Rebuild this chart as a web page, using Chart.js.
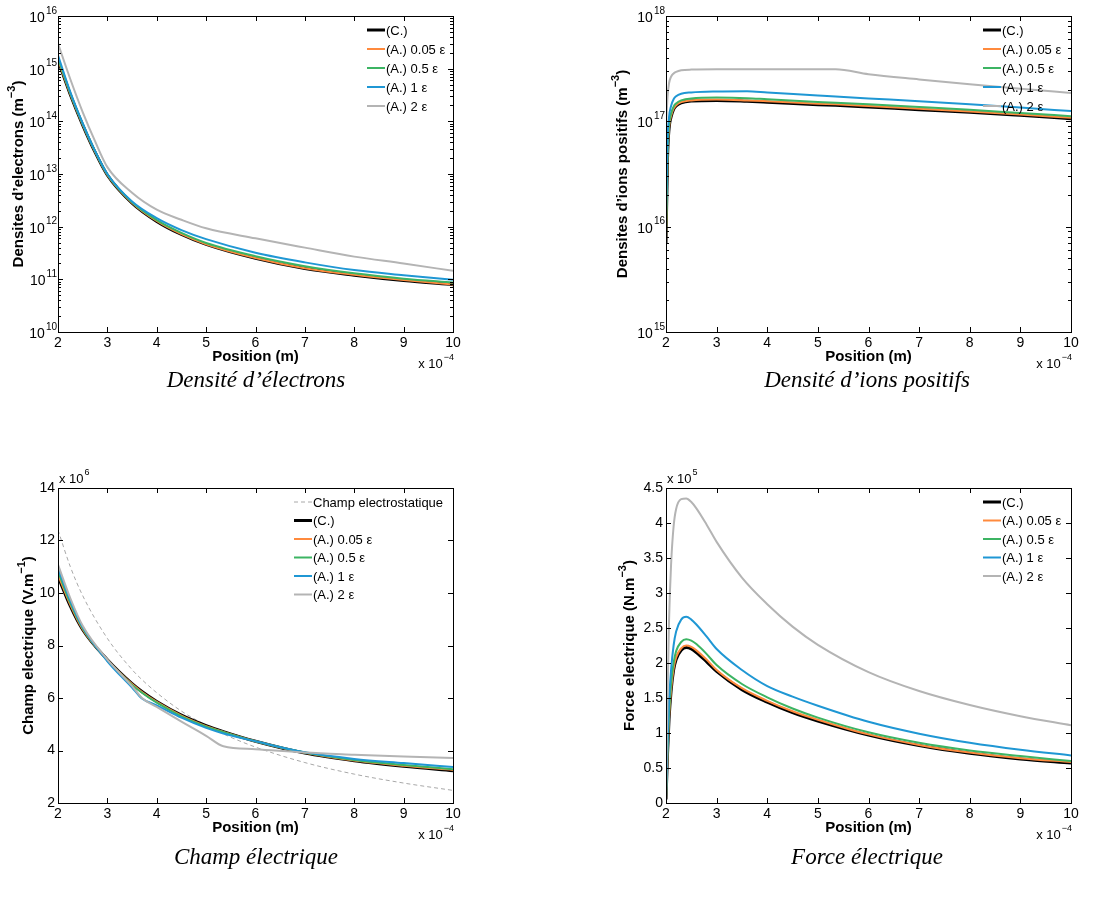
<!DOCTYPE html>
<html>
<head>
<meta charset="utf-8">
<script src="https://cdn.jsdelivr.net/npm/chart.js@4.4.0/dist/chart.umd.min.js"></script>
<style>
    body { margin: 0; background: #ffffff; }
    #page { position: relative; width: 1104px; height: 898px; overflow: hidden; }
    canvas { position: absolute; }
    .caption {
        position: absolute; width: 400px; text-align: center; line-height: 24px;
        font-family: "Liberation Serif", "Times New Roman", serif; font-style: italic; font-size: 23px; color: #000;
    }
</style>
</head>
<body>
<div id="page">
    <canvas id="chart_elec" width="552" height="420" style="left:0px;top:0px"></canvas>
    <canvas id="chart_ions" width="552" height="420" style="left:552px;top:0px"></canvas>
    <canvas id="chart_champ" width="552" height="420" style="left:0px;top:440px"></canvas>
    <canvas id="chart_force" width="552" height="420" style="left:552px;top:440px"></canvas>
    <div class="caption" style="left:56px;top:368px">Densité d’électrons</div>
    <div class="caption" style="left:667px;top:368px">Densité d’ions positifs</div>
    <div class="caption" style="left:56px;top:845px">Champ électrique</div>
    <div class="caption" style="left:667px;top:845px">Force électrique</div>
</div>
<script>
// ---- data (x in units of 1e-4 m) ----
var xTicks = [2, 3, 4, 5, 6, 7, 8, 9, 10];
var seriesNames = ['(C.)', '(A.) 0.05 ε', '(A.) 0.5 ε', '(A.) 1 ε', '(A.) 2 ε'];
var arrColor = ['#000000', '#ff8a3d', '#3cb463', '#1f97d4', '#b4b4b4'];

// electrons (m^-3)
var xElec = [2, 2.25, 2.5, 2.75, 3, 3.5, 4, 4.5, 5, 6, 7, 8, 9, 10];
var elecC = [1.45e15, 3.2e14, 8.5e13, 2.6e13, 9.5e12, 2.8e12, 1.26e12, 7.1e11, 4.6e11, 2.5e11, 1.6e11, 1.2e11, 9.5e10, 7.9e10];
var elecA005 = [1.5e15, 3.3e14, 8.7e13, 2.65e13, 9.6e12, 2.85e12, 1.28e12, 7.2e11, 4.65e11, 2.55e11, 1.63e11, 1.22e11, 9.7e10, 8.0e10];
var elecA05 = [1.6e15, 3.4e14, 8.9e13, 2.7e13, 9.8e12, 2.9e12, 1.33e12, 7.6e11, 4.9e11, 2.75e11, 1.78e11, 1.3e11, 1.03e11, 8.7e10];
var elecA1 = [1.8e15, 3.6e14, 9.2e13, 2.75e13, 1.0e13, 3.0e12, 1.45e12, 8.6e11, 5.8e11, 3.2e11, 2.1e11, 1.5e11, 1.2e11, 9.8e10];
var elecA2 = [3.0e15, 6.3e14, 1.5e14, 4.2e13, 1.35e13, 4.4e12, 2.1e12, 1.35e12, 9.3e11, 6.0e11, 4.0e11, 2.7e11, 2.0e11, 1.45e11];
var elecTicks = [1e10, 1e11, 1e12, 1e13, 1e14, 1e15, 1e16];

// positive ions (m^-3)
var xIons = [2, 2.03, 2.06, 2.1, 2.15, 2.2, 2.3, 2.5, 3, 3.6, 4, 5, 5.35, 6, 7, 8, 9, 10];
var ionC = [7e15, 4.5e16, 8.5e16, 1.1e17, 1.3e17, 1.4e17, 1.5e17, 1.56e17, 1.58e17, 1.55e17, 1.52e17, 1.44e17, 1.42e17, 1.37e17, 1.29e17, 1.22e17, 1.14e17, 1.06e17];
var ionA005 = [7e15, 4.6e16, 8.7e16, 1.12e17, 1.32e17, 1.42e17, 1.52e17, 1.58e17, 1.61e17, 1.58e17, 1.55e17, 1.47e17, 1.45e17, 1.40e17, 1.32e17, 1.24e17, 1.16e17, 1.08e17];
var ionA05 = [7.5e15, 5e16, 9.2e16, 1.18e17, 1.38e17, 1.48e17, 1.58e17, 1.65e17, 1.68e17, 1.66e17, 1.62e17, 1.53e17, 1.50e17, 1.45e17, 1.37e17, 1.29e17, 1.20e17, 1.12e17];
var ionA1 = [1.2e16, 6.5e16, 1.1e17, 1.4e17, 1.62e17, 1.73e17, 1.83e17, 1.88e17, 1.92e17, 1.93e17, 1.88e17, 1.76e17, 1.72e17, 1.65e17, 1.55e17, 1.45e17, 1.35e17, 1.25e17];
var ionA2 = [9e16, 1.7e17, 2.3e17, 2.65e17, 2.85e17, 2.95e17, 3.05e17, 3.1e17, 3.12e17, 3.12e17, 3.12e17, 3.12e17, 3.12e17, 2.8e17, 2.5e17, 2.25e17, 2.04e17, 1.86e17];
var ionTicks = [1e15, 1e16, 1e17, 1e18];

// electric field (x 1e6 V/m)
var xChamp = [2, 2.25, 2.5, 3, 3.5, 3.7, 4, 4.5, 5, 5.35, 6, 7, 8, 9, 10];
var champES = [12.4, 11.0, 9.9, 8.27, 7.08, 6.7, 6.2, 5.5, 4.96, 4.63, 4.13, 3.54, 3.1, 2.76, 2.48];
var champC = [10.63, 9.5, 8.6, 7.46, 6.55, 6.25, 5.87, 5.35, 4.95, 4.72, 4.35, 3.9, 3.61, 3.4, 3.23];
var champA005 = [10.7, 9.55, 8.62, 7.45, 6.53, 6.23, 5.85, 5.33, 4.93, 4.71, 4.35, 3.91, 3.62, 3.42, 3.26];
var champA05 = [10.83, 9.62, 8.66, 7.44, 6.5, 6.2, 5.82, 5.3, 4.91, 4.70, 4.35, 3.92, 3.64, 3.45, 3.29];
var champA1 = [10.95, 9.7, 8.7, 7.4, 6.4, 5.98, 5.72, 5.25, 4.86, 4.65, 4.35, 3.93, 3.68, 3.52, 3.37];
var champA2 = [11.08, 9.8, 8.75, 7.46, 6.45, 6.0, 5.66, 5.1, 4.56, 4.16, 4.05, 3.92, 3.84, 3.77, 3.71];
var champTicks = [2, 4, 6, 8, 10, 12, 14];

// electric force (x 1e5 N/m^3)
var xForce = [2, 2.03, 2.06, 2.1, 2.15, 2.2, 2.3, 2.4, 2.5, 2.6, 2.8, 3, 3.5, 4, 4.5, 5, 6, 7, 8, 9, 10];
var forceC = [0.05, 0.7, 1.2, 1.6, 1.9, 2.05, 2.18, 2.22, 2.2, 2.15, 2.02, 1.88, 1.62, 1.44, 1.29, 1.17, 0.97, 0.82, 0.71, 0.63, 0.57];
var forceA005 = [0.05, 0.7, 1.22, 1.62, 1.92, 2.08, 2.21, 2.25, 2.23, 2.18, 2.05, 1.9, 1.64, 1.46, 1.31, 1.19, 0.98, 0.83, 0.72, 0.64, 0.585];
var forceA05 = [0.06, 0.75, 1.28, 1.7, 2.0, 2.17, 2.3, 2.34, 2.32, 2.27, 2.13, 1.97, 1.7, 1.51, 1.35, 1.22, 1.01, 0.86, 0.75, 0.67, 0.6];
var forceA1 = [0.08, 0.85, 1.45, 1.9, 2.25, 2.45, 2.62, 2.66, 2.62, 2.55, 2.38, 2.2, 1.9, 1.67, 1.52, 1.39, 1.16, 0.99, 0.86, 0.76, 0.68];
var forceA2 = [0.1, 1.5, 2.6, 3.4, 3.95, 4.2, 4.34, 4.35, 4.3, 4.21, 3.98, 3.73, 3.22, 2.84, 2.52, 2.26, 1.87, 1.6, 1.4, 1.24, 1.11];
var forceTicks = [0, 0.5, 1, 1.5, 2, 2.5, 3, 3.5, 4, 4.5];

var FONT = '"Liberation Sans", Arial, sans-serif';

// draws base text followed by a raised exponent
function drawSup(ctx, x, y, base, sup, size, align) {
    ctx.font = size + 'px ' + FONT;
    let wb = ctx.measureText(base).width;
    ctx.font = Math.round(size * 0.72) + 'px ' + FONT;
    let ws = ctx.measureText(sup).width;
    let x0 = x;
    if (align == 'right') x0 = x - wb - ws;
    if (align == 'center') x0 = x - (wb + ws) / 2;
    ctx.textAlign = 'left';
    ctx.textBaseline = 'middle';
    ctx.font = size + 'px ' + FONT;
    ctx.fillText(base, x0, y);
    ctx.font = Math.round(size * 0.72) + 'px ' + FONT;
    ctx.fillText(sup, x0 + wb + 1, y - size * 0.5);
}

// MATLAB look: box, inward ticks, titles, exponents, legend
const matlabAxes = {
    id: 'matlabAxes',
    afterDraw: function (chart, args, opt) {
        const ctx = chart.ctx;
        const a = chart.chartArea;
        const xs = chart.scales.x;
        const ys = chart.scales.y;
        ctx.save();
        ctx.strokeStyle = '#000';
        ctx.fillStyle = '#000';
        ctx.lineWidth = 1;

        // ticks
        ctx.beginPath();
        for (let t of xs.ticks) {
            let px = Math.round(xs.getPixelForValue(t.value)) + 0.5;
            ctx.moveTo(px, a.bottom); ctx.lineTo(px, a.bottom - 5);
            ctx.moveTo(px, a.top); ctx.lineTo(px, a.top + 5);
        }
        for (let t of ys.ticks) {
            let py = Math.round(ys.getPixelForValue(t.value)) + 0.5;
            ctx.moveTo(a.left, py); ctx.lineTo(a.left + 5, py);
            ctx.moveTo(a.right, py); ctx.lineTo(a.right - 5, py);
        }
        if (opt.log) {
            for (let i = 0; i < ys.ticks.length - 1; i++) {
                for (let k = 2; k <= 9; k++) {
                    let py = Math.round(ys.getPixelForValue(ys.ticks[i].value * k)) + 0.5;
                    ctx.moveTo(a.left, py); ctx.lineTo(a.left + 3, py);
                    ctx.moveTo(a.right, py); ctx.lineTo(a.right - 3, py);
                }
            }
        }
        ctx.stroke();

        // box
        ctx.strokeRect(Math.round(a.left) + 0.5, Math.round(a.top) + 0.5,
            Math.round(a.right - a.left), Math.round(a.bottom - a.top));

        // log tick labels 10^n
        if (opt.log) {
            for (let t of ys.ticks) {
                let py = ys.getPixelForValue(t.value);
                drawSup(ctx, a.left - 2, py + 2, '10', String(Math.round(Math.log10(t.value))), 14, 'right');
            }
        }

        // x title
        ctx.font = 'bold 15px ' + FONT;
        ctx.textAlign = 'center';
        ctx.textBaseline = 'middle';
        ctx.fillText('Position (m)', (a.left + a.right) / 2, a.bottom + 25);

        // x multiplier
        drawSup(ctx, a.right, a.bottom + 32, 'x 10', '−4', 13, 'right');
        if (opt.yMult) {
            drawSup(ctx, a.left + 1, a.top - 9, 'x 10', opt.yMult, 13, 'left');
        }

        // y title (rotated)
        ctx.save();
        ctx.translate(opt.yTitleX, (a.top + a.bottom) / 2);
        ctx.rotate(-Math.PI / 2);
        ctx.font = 'bold 15px ' + FONT;
        let w1 = ctx.measureText(opt.yTitle).width;
        ctx.font = 'bold 11px ' + FONT;
        let w2 = ctx.measureText(opt.yTitleSup).width;
        ctx.font = 'bold 15px ' + FONT;
        let w3 = ctx.measureText(')').width;
        let x0 = -(w1 + w2 + w3) / 2;
        ctx.textAlign = 'left';
        ctx.fillText(opt.yTitle, x0, 0);
        ctx.font = 'bold 11px ' + FONT;
        ctx.fillText(opt.yTitleSup, x0 + w1, -7);
        ctx.font = 'bold 15px ' + FONT;
        ctx.fillText(')', x0 + w1 + w2, 0);
        ctx.restore();

        // legend
        ctx.font = '13px ' + FONT;
        ctx.textAlign = 'left';
        ctx.textBaseline = 'middle';
        let row = 0;
        for (let ds of chart.data.datasets) {
            let ly = opt.legendY + row * opt.legendRow;
            ctx.save();
            ctx.strokeStyle = ds.borderColor;
            ctx.lineWidth = ds.borderWidth;
            ctx.setLineDash(ds.borderDash || []);
            ctx.beginPath();
            ctx.moveTo(opt.legendX, ly);
            ctx.lineTo(opt.legendX + 18, ly);
            ctx.stroke();
            ctx.restore();
            ctx.fillText(ds.label, opt.legendX + 19, ly + 1);
            row += 1;
        }
        ctx.restore();
    }
};

function makeDatasets(xVals, arrSeries) {
    let objDatasets = [];
    for (let i = 0; i < arrSeries.length; i++) {
        let pts = [];
        for (let j = 0; j < xVals.length; j++) {
            pts.push({ x: xVals[j], y: arrSeries[i][j] });
        }
        objDatasets.push({
            label: seriesNames[i],
            data: pts,
            borderColor: arrColor[i],
            backgroundColor: arrColor[i],
            borderWidth: (i == 0) ? 3 : 2,
            order: 5 - i,
            cubicInterpolationMode: 'monotone',
            pointRadius: 0,
            fill: false
        });
    }
    return objDatasets;
}

function DrawPanel(canvasId, datasets, yCfg, plotBox, pluginOpt) {
    let ctx = document.getElementById(canvasId).getContext('2d');
    let W = 552, H = 420;
    return new Chart(ctx, {
        type: 'line',
        data: { datasets: datasets },
        plugins: [matlabAxes],
        options: {
            responsive: false,
            animation: false,
            devicePixelRatio: 1,
            layout: {
                padding: { left: 0, top: plotBox.top, right: W - plotBox.right, bottom: 0 }
            },
            plugins: {
                legend: { display: false },
                tooltip: { enabled: false },
                matlabAxes: pluginOpt
            },
            scales: {
                x: {
                    type: 'linear',
                    min: 2,
                    max: 10,
                    afterBuildTicks: function (axis) {
                        axis.ticks = xTicks.map(function (v) { return { value: v }; });
                    },
                    afterFit: function (axis) { axis.height = H - plotBox.bottom; },
                    grid: { display: false, drawTicks: false },
                    border: { display: false },
                    ticks: {
                        color: '#000',
                        padding: 3,
                        maxRotation: 0,
                        font: { family: FONT, size: 14 }
                    }
                },
                y: {
                    type: yCfg.type,
                    min: yCfg.ticks[0],
                    max: yCfg.ticks[yCfg.ticks.length - 1],
                    afterBuildTicks: function (axis) {
                        axis.ticks = yCfg.ticks.map(function (v) { return { value: v }; });
                    },
                    afterFit: function (axis) { axis.width = plotBox.left; },
                    grid: { display: false, drawTicks: false },
                    border: { display: false },
                    ticks: {
                        display: yCfg.type != 'logarithmic',
                        color: '#000',
                        padding: 3,
                        font: { family: FONT, size: 14 },
                        callback: function (v) { return String(v); }
                    }
                }
            }
        }
    });
}

// Densite d'electrons
DrawPanel('chart_elec',
    makeDatasets(xElec, [elecC, elecA005, elecA05, elecA1, elecA2]),
    { type: 'logarithmic', ticks: elecTicks },
    { left: 58, top: 16, right: 453, bottom: 332 },
    { log: true, yTitle: 'Densites d’electrons (m', yTitleSup: '−3', yTitleX: 19, legendX: 367, legendY: 30, legendRow: 19 });

// Densite d'ions positifs
DrawPanel('chart_ions',
    makeDatasets(xIons, [ionC, ionA005, ionA05, ionA1, ionA2]),
    { type: 'logarithmic', ticks: ionTicks },
    { left: 114, top: 16, right: 519, bottom: 332 },
    { log: true, yTitle: 'Densites d’ions positifs (m', yTitleSup: '−3', yTitleX: 71, legendX: 431, legendY: 30, legendRow: 19 });

// Champ electrique
let champSets = makeDatasets(xChamp, [champC, champA005, champA05, champA1, champA2]);
champSets.unshift({
    label: 'Champ electrostatique',
    data: xChamp.map(function (v, j) { return { x: v, y: champES[j] }; }),
    borderColor: '#a8a8a8',
    borderWidth: 1,
    borderDash: [4, 3],
    order: 6,
    cubicInterpolationMode: 'monotone',
    pointRadius: 0,
    fill: false
});
DrawPanel('chart_champ', champSets,
    { type: 'linear', ticks: champTicks },
    { left: 58, top: 48, right: 453, bottom: 363 },
    { log: false, yMult: '6', yTitle: 'Champ electrique (V.m', yTitleSup: '−1', yTitleX: 29, legendX: 294, legendY: 62, legendRow: 18.5 });

// Force electrique
DrawPanel('chart_force',
    makeDatasets(xForce, [forceC, forceA005, forceA05, forceA1, forceA2]),
    { type: 'linear', ticks: forceTicks },
    { left: 114, top: 48, right: 519, bottom: 363 },
    { log: false, yMult: '5', yTitle: 'Force electrique (N.m', yTitleSup: '−3', yTitleX: 78, legendX: 431, legendY: 62, legendRow: 18.5 });
</script>
</body>
</html>
